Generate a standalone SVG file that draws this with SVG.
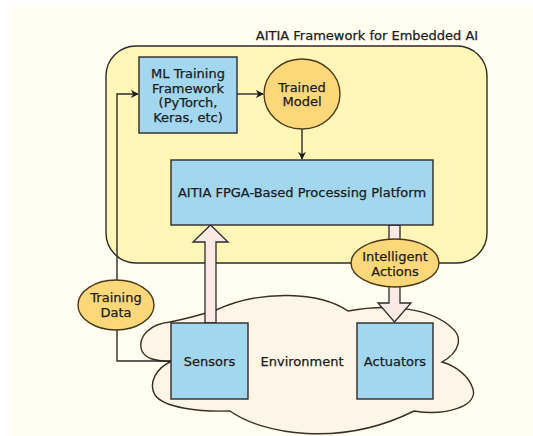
<svg xmlns="http://www.w3.org/2000/svg" width="533" height="436" viewBox="0 0 533 436">
  <defs>
    <style>
      text { font-family: "DejaVu Sans", "Liberation Sans", sans-serif; font-size: 13px; fill: #1a1a1a; stroke: #1a1a1a; stroke-width: 0.25; text-anchor: middle; }
      .box { fill: #a3d7ef; stroke: #2b2b2b; stroke-width: 1.4; }
      .oval { fill: #fdd87a; stroke: #4a3a1a; stroke-width: 1.4; }
      .wire { fill: none; stroke: #2b2b2b; stroke-width: 1.4; }
      .fat { fill: #fbe9e4; stroke: #2b2b2b; stroke-width: 1.3; stroke-linejoin: miter; }
    </style>
    <marker id="tip" viewBox="0 0 10 10" refX="9" refY="5" markerWidth="8" markerHeight="8" markerUnits="userSpaceOnUse" orient="auto">
      <path d="M0,0 L10,5 L0,10 L3,5 Z" fill="#1a1a1a"/>
    </marker>
  </defs>

  <!-- page -->
  <rect x="0" y="0" width="533" height="436" fill="#ffffff"/>
  <rect x="10" y="7" width="523" height="429" fill="#fffef0"/>

  <!-- framework container -->
  <g id="framework">
    <rect x="106" y="46" width="381" height="217" rx="30" ry="30" fill="#fff6b7" stroke="#2b2b2b" stroke-width="1.4"/>
    <text x="367" y="40">AITIA Framework for Embedded AI</text>
  </g>

  <!-- environment cloud -->
  <g id="environment">
    <path d="M170,322 C150,324 139,336 141,348 C143,359 158,362 172,361
             C156,368 148,383 155,395 C164,408 200,412 230,411
             C262,434 340,448 414,411
             C444,416 478,407 473,389 C469,376 456,366 442,362
             C460,352 463,337 452,328 C432,309 392,303 348,311
             C320,292 262,289 216,310 C200,315 185,319 170,322 Z"
          fill="#fdf6e8" stroke="#3a2f22" stroke-width="1.4"/>
    <text x="302" y="366">Environment</text>
  </g>

  <!-- connectors -->
  <g id="connectors">
    <path class="wire" d="M172,361 H117 V94 H138" marker-end="url(#tip)"/>
    <path class="wire" d="M237,94 H263" marker-end="url(#tip)"/>
    <path class="wire" d="M302,129 V159" marker-end="url(#tip)"/>
    <!-- sensor data up into the platform -->
    <path class="fat" d="M205,323 V242 H193 L210.5,225 L228,242 H216 V323 Z"/>
    <!-- actions down to the actuators -->
    <path class="fat" d="M389,225 V303 H378 L394.5,322 L411,303 H400 V225 Z"/>
  </g>

  <g id="ml-training">
    <rect class="box" x="139" y="57" width="98" height="76"/>
    <text x="188" y="78">ML Training</text>
    <text x="188" y="92.5">Framework</text>
    <text x="188" y="107">(PyTorch,</text>
    <text x="188" y="121.5">Keras, etc)</text>
  </g>

  <g id="trained-model">
    <ellipse class="oval" cx="302" cy="94" rx="38" ry="35"/>
    <text x="302" y="92">Trained</text>
    <text x="302" y="106">Model</text>
  </g>

  <g id="platform">
    <rect class="box" x="171" y="160" width="262" height="65"/>
    <text x="302" y="197">AITIA FPGA-Based Processing Platform</text>
  </g>

  <g id="intelligent-actions">
    <ellipse class="oval" cx="395" cy="263" rx="44" ry="24"/>
    <text x="395" y="261">Intelligent</text>
    <text x="395" y="275.5">Actions</text>
  </g>

  <g id="training-data">
    <ellipse class="oval" cx="116" cy="305" rx="38" ry="25"/>
    <text x="116" y="302">Training</text>
    <text x="116" y="316.5">Data</text>
  </g>

  <g id="sensors">
    <rect class="box" x="171" y="323" width="77" height="76"/>
    <text x="209.5" y="366">Sensors</text>
  </g>

  <g id="actuators">
    <rect class="box" x="357" y="323" width="76" height="76"/>
    <text x="395" y="366">Actuators</text>
  </g>
</svg>
